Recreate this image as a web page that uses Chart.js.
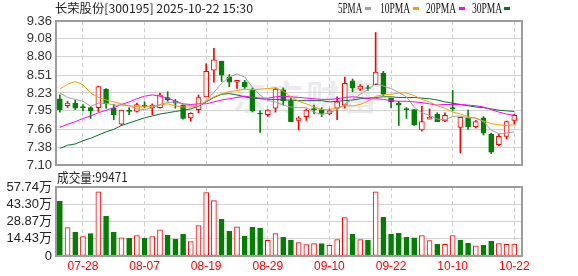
<!DOCTYPE html>
<html>
<head>
<meta charset="utf-8">
<script src="https://cdn.jsdelivr.net/npm/chart.js@4.4.1/dist/chart.umd.min.js"></script>
<style>
  body { margin: 0; background: #fff; }
  #wrap { position: relative; width: 578px; height: 276px; overflow: hidden; }
  canvas { position: absolute; left: 0; top: 0; }
  .txt { position: absolute; white-space: nowrap; transform-origin: 0 0; color: #222; }
  #title { left: 55px; top: 2px; font: 12px/12px "Noto Sans CJK SC", sans-serif; }
  #volTitle { left: 57px; top: 170px; font: 13px/13px "Noto Sans CJK SC", sans-serif; }
  .lg { font: 14px/14px "Liberation Serif", serif; top: 2px; color: #111; }
  .sw { position: absolute; top: 7px; width: 6px; height: 3px; }
</style>
</head>
<body>
<div id="wrap">
  <canvas id="kline" width="578" height="276"></canvas>
  <canvas id="vol" width="578" height="276"></canvas>
  <div class="txt" id="title">长荣股份[300195] 2025-10-22 15:30</div>
  <div class="txt" id="volTitle">成交量:99471</div>
</div>
<script>
// 日K数据 07-23 .. 10-22
const opens  = [8.14,8.03,8.07,8.01,8.00,8.00,8.29,7.99,7.74,7.96, 7.94,8.04,8.00,8.00,8.16,8.10,8.04,7.84,7.97,8.17,
                8.59,8.73,8.48,8.40,8.40,8.27,7.91,7.89,7.99,8.28, 8.11,7.80,7.86,7.98,7.97,7.90,7.99,8.04,8.42,8.29,
                8.31,8.36,8.54,8.15,8.07,7.98,7.97,7.65,7.82,7.90, 7.79,8.00,7.69,7.84,7.70,7.84,7.58,7.42,7.55,7.80];
const highs  = [8.20,8.10,8.12,8.05,8.02,8.34,8.30,8.05,7.96,8.00, 8.07,8.09,8.06,8.23,8.25,8.13,8.04,7.92,8.20,8.69,
                8.93,8.73,8.52,8.43,8.43,8.31,7.95,7.97,8.31,8.31, 8.15,7.86,7.98,8.04,8.00,7.98,8.17,8.48,8.45,8.36,
                8.35,9.18,8.57,8.15,8.10,8.00,7.97,8.02,7.98,7.92, 7.92,8.27,7.85,7.96,7.80,7.86,7.60,7.58,7.79,7.90];
const lows   = [7.93,8.00,7.97,7.95,7.83,7.94,7.99,7.81,7.72,7.89, 7.93,8.00,7.89,7.99,8.10,7.99,7.82,7.79,7.92,8.17,
                8.40,8.41,8.33,8.30,8.30,7.93,7.61,7.86,7.93,8.04, 7.78,7.65,7.80,7.90,7.86,7.89,7.81,7.99,8.25,8.27,
                8.27,8.36,8.19,8.00,7.72,7.83,7.72,7.63,7.82,7.78, 7.78,7.95,7.29,7.66,7.68,7.57,7.28,7.40,7.51,7.74];
const closes = [7.97,8.07,7.99,8.00,7.95,8.33,8.06,7.89,7.96,7.94, 8.05,8.02,8.04,8.20,8.12,8.07,7.83,7.91,8.16,8.57,
                8.75,8.51,8.40,8.43,8.33,7.95,7.90,7.96,8.29,8.11, 7.78,7.84,7.96,7.97,7.91,7.95,8.09,8.38,8.31,8.34,
                8.30,8.56,8.21,8.09,8.04,7.97,7.73,7.78,7.85,7.78, 7.88,7.98,7.85,7.70,7.78,7.60,7.30,7.55,7.78,7.88];

// 成交量(万)
const volumes = [45.7,23.7,19.8,16.2,18.7,53.8,33.2,19.8,15.3,14.8, 17.0,14.8,16.2,22.0,17.3,13.9,18.1,12.0,25.4,53.0,
                 46.3,30.7,20.6,24.5,16.5,24.0,23.1,13.1,18.7,15.6, 13.4,11.2,9.5,10.3,10.3,8.9,13.7,32.1,18.1,13.7,
                 13.1,53.8,32.4,18.1,19.0,15.6,15.3,17.0,12.8,9.8, 9.8,17.0,13.1,10.6,8.6,8.9,12.3,10.3,9.8,9.95];

// 均线
const ma5  = [8.23,8.16,8.13,8.10,8.02,8.07,8.07,8.04,8.04,8.03, 7.98,7.97,8.00,8.05,8.08,8.09,8.05,8.03,8.02,8.11,
              8.24,8.38,8.48,8.53,8.48,8.32,8.20,8.11,8.09,8.04, 8.01,8.00,8.00,7.93,7.89,7.92,7.97,8.06,8.13,8.21,
              8.28,8.38,8.34,8.30,8.24,8.17,8.01,7.92,7.88,7.82, 7.81,7.86,7.87,7.84,7.84,7.78,7.65,7.59,7.60,7.62];
const ma10 = [8.29,8.37,8.41,8.36,8.23,8.16,8.12,8.09,8.06,8.03, 8.02,8.02,8.02,8.04,8.06,8.03,8.01,8.01,8.03,8.10,
              8.17,8.22,8.25,8.27,8.29,8.28,8.29,8.30,8.31,8.26, 8.17,8.10,8.06,8.01,7.97,7.97,7.99,8.03,8.03,8.05,
              8.10,8.18,8.20,8.21,8.23,8.23,8.19,8.13,8.09,8.03, 7.99,7.93,7.90,7.86,7.83,7.79,7.75,7.73,7.72,7.73];
const ma20 = [7.69,7.74,7.78,7.83,7.87,7.92,7.96,8.00,8.05,8.09, 8.14,8.18,8.20,8.18,8.15,8.10,8.06,8.05,8.06,8.06,
              8.09,8.12,8.14,8.16,8.18,8.16,8.15,8.15,8.17,8.18, 8.17,8.16,8.15,8.14,8.13,8.13,8.14,8.16,8.17,8.16,
              8.14,8.14,8.13,8.11,8.10,8.10,8.09,8.08,8.06,8.04, 8.05,8.05,8.05,8.04,8.03,8.01,7.97,7.93,7.90,7.88];
const ma30 = [7.36,7.41,7.43,7.48,7.52,7.57,7.62,7.66,7.72,7.76, 7.80,7.84,7.87,7.90,7.92,7.94,7.96,7.98,8.02,8.09,
              8.16,8.21,8.22,8.20,8.17,8.15,8.14,8.13,8.13,8.12, 8.12,8.11,8.11,8.11,8.11,8.09,8.10,8.11,8.12,8.14,
              8.15,8.16,8.17,8.17,8.16,8.16,8.16,8.15,8.14,8.12, 8.09,8.07,8.05,8.03,8.01,8.00,7.98,7.96,7.95,7.94];

const dateLabels = ['07-28','08-07','08-19','08-29','09-10','09-22','10-10','10-22'];
const dateIdx = [3, 11, 19, 27, 35, 43, 51, 59];
const priceTicks = ['7.10','7.38','7.66','7.95','8.23','8.51','8.80','9.08','9.36'];
const volTicks = ['0','14.43','28.87','43.30','57.74'];

const maNames = ['5PMA','10PMA','20PMA','30PMA'];
const maColors = ['#a0a0a0','#f2a100','#ff00ff','#08702e'];

const RED = '#ff0000', GREEN = '#008000';
const up = closes.map((c, i) => c >= opens[i]);
const volUp = closes.map((c, i) => c >= (i ? closes[i - 1] : opens[i]));
const pts = arr => arr.map((v, i) => ({ x: i, y: v }));

// 边框
const frame = {
  id: 'frame',
  afterDatasetsDraw(chart) {
    const a = chart.chartArea, ctx = chart.ctx;
    ctx.save();
    ctx.strokeStyle = '#9c9c9c';
    ctx.lineWidth = 2;
    ctx.strokeRect(a.left, a.top, a.right - a.left, a.bottom - a.top);
    ctx.restore();
  }
};

// 水印
const watermark = {
  id: 'watermark',
  beforeDraw(chart) {
    const ctx = chart.ctx;
    ctx.save();
    ctx.fillStyle = '#ebebef';
    ctx.font = 'bold 34px "Noto Sans CJK SC"';
    ctx.textBaseline = 'alphabetic';
    '东方财富'.split('').forEach((ch, k) => ctx.fillText(ch, 232 + k * 37, 110));
    ctx.restore();
  }
};

const xScale = (showLabels) => ({
  type: 'linear',
  min: -0.5,
  max: 60,
  offset: false,
  grid: { color: '#cfcfcf', drawTicks: false, offset: false },
  border: { display: false, dash: [4, 3] },
  afterBuildTicks: s => { s.ticks = dateIdx.map(v => ({ value: v })); },
  ticks: showLabels ? {
    autoSkip: false, maxRotation: 0, padding: 3, color: RED,
    font: { family: '"Liberation Sans", Arial', size: 12 },
    callback: v => dateLabels[dateIdx.indexOf(v)]
  } : { display: false },
  afterFit: s => { s.height = showLabels ? 20 : 0; }
});

new Chart(document.getElementById('kline'), {
  type: 'bar',
  data: {
    datasets: [
      ...[ma5, ma10, ma20, ma30].map((m, k) => ({
        type: 'line', label: maNames[k], data: pts(m), order: 0,
        borderColor: maColors[k], borderWidth: 1, pointRadius: 0, tension: 0
      })),
      {
        label: 'body', order: 1, grouped: false,
        data: opens.map((o, i) => ({ x: i, y: [o, closes[i]] })),
        backgroundColor: up.map(u => u ? '#ffffff' : GREEN),
        borderColor: up.map(u => u ? RED : GREEN),
        borderWidth: 1, borderSkipped: false, barThickness: 5, minBarLength: 1
      },
      {
        label: 'wick', order: 2, grouped: false,
        data: lows.map((l, i) => ({ x: i, y: [l, highs[i]] })),
        backgroundColor: up.map(u => u ? RED : GREEN),
        borderWidth: 0, barThickness: 1
      }
    ]
  },
  options: {
    responsive: false, animation: false, devicePixelRatio: 1, events: [],
    layout: { padding: { top: 21, right: 56, bottom: 111, left: 0 } },
    plugins: { legend: { display: false }, tooltip: { enabled: false } },
    scales: {
      x: xScale(false),
      y: {
        min: 7.10, max: 9.36,
        afterBuildTicks: s => { s.ticks = priceTicks.map(t => ({ value: parseFloat(t) })); },
        afterFit: s => { s.width = 56; },
        grid: { color: '#d2d2d2', drawTicks: false },
        border: { display: false },
        ticks: {
          autoSkip: false, padding: 4, color: '#333',
          font: { family: '"Liberation Sans", Arial', size: 13 },
          callback: (v, i) => priceTicks[i]
        }
      }
    }
  },
  plugins: [watermark, frame]
});

new Chart(document.getElementById('vol'), {
  type: 'bar',
  data: {
    datasets: [{
      label: 'volume',
      data: pts(volumes),
      backgroundColor: volUp.map(u => u ? '#ffffff' : GREEN),
      borderColor: volUp.map(u => u ? RED : GREEN),
      borderWidth: 1, borderSkipped: false, barThickness: 5
    }]
  },
  options: {
    responsive: false, animation: false, devicePixelRatio: 1, events: [],
    layout: { padding: { top: 187, right: 56, bottom: 0, left: 0 } },
    plugins: { legend: { display: false }, tooltip: { enabled: false } },
    scales: {
      x: xScale(true),
      y: {
        min: 0, max: 57.74,
        afterBuildTicks: s => { s.ticks = volTicks.map(t => ({ value: parseFloat(t) })); },
        afterFit: s => { s.width = 56; },
        grid: { color: '#d2d2d2', drawTicks: false },
        border: { display: false },
        ticks: {
          autoSkip: false, padding: 4, color: '#222',
          font: { family: '"Liberation Sans", "Noto Sans CJK SC"', size: 13 },
          callback: (v, i) => i ? volTicks[i] + '万' : volTicks[i]
        }
      }
    }
  },
  plugins: [frame]
});

// 图例
const wrap = document.getElementById('wrap');
const lgLeft = [338, 380, 426, 472];
const lgWidth = [24, 30, 30, 30];
const swLeft = [365, 413, 459, 504];
maNames.forEach((n, k) => {
  const t = document.createElement('div');
  t.className = 'txt lg';
  t.style.left = lgLeft[k] + 'px';
  t.textContent = n;
  wrap.appendChild(t);
  t.style.transform = 'scaleX(' + (lgWidth[k] / t.offsetWidth) + ')';
  const s = document.createElement('div');
  s.className = 'sw';
  s.style.left = swLeft[k] + 'px';
  s.style.background = maColors[k];
  wrap.appendChild(s);
});

function fitWidth(id, w) {
  const el = document.getElementById(id);
  el.style.transform = 'scaleX(' + (w / el.offsetWidth) + ')';
}
fitWidth('title', 198);
fitWidth('volTitle', 71);
</script>
</body>
</html>
